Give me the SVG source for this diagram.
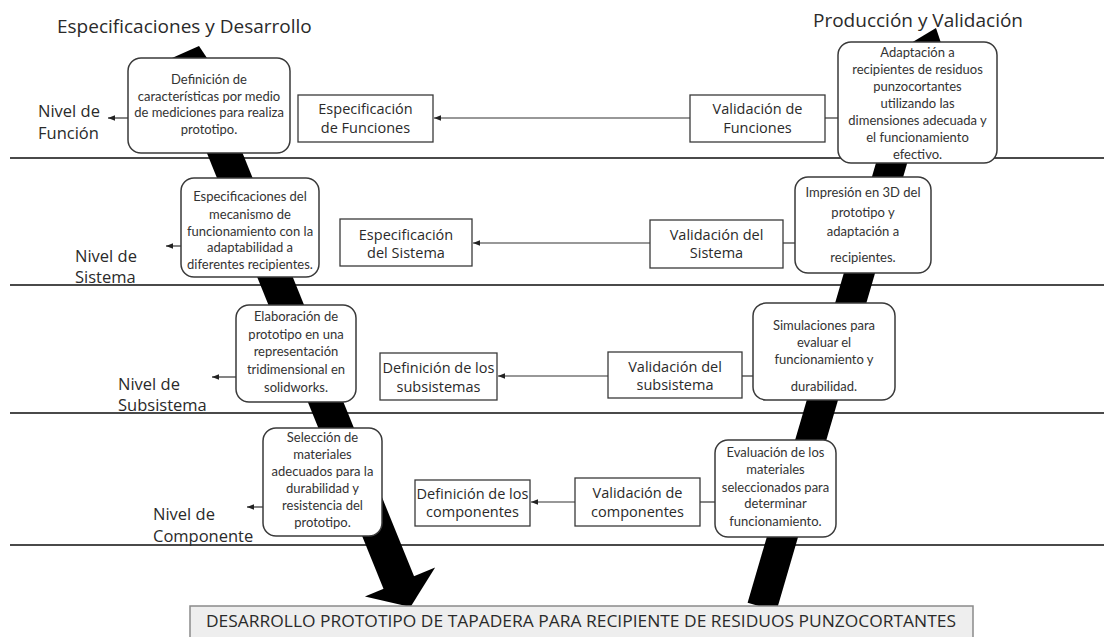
<svg xmlns="http://www.w3.org/2000/svg" width="1104" height="637" viewBox="0 0 1104 637">
<defs>
<style>
.div{stroke:#4a4a4a;stroke-width:2;}
.band{stroke:#000;stroke-width:33;fill:none;}
.con{stroke:#333;stroke-width:1.2;fill:none;}
.rect{fill:#fff;stroke:#3a3a3a;stroke-width:1.3;}
.rbox{fill:#fff;stroke:#3a3a3a;stroke-width:1.5;}
.t{font-family:"Open Sans","Noto Sans",sans-serif;fill:#2a2a2a;}
.lbl{font-size:16.5px;}
.ttl{font-size:19px;}
.mid{font-size:14.5px;text-anchor:middle;}
.sm{font-family:Lato,"Liberation Sans",sans-serif;font-size:13px;text-anchor:middle;fill:#333;}
</style>
<marker id="ah" viewBox="0 0 10 10" refX="10" refY="5" markerWidth="7" markerHeight="7" markerUnits="userSpaceOnUse" orient="auto">
<path d="M0,1 L10,5 L0,9 z" fill="#222"/>
</marker>
</defs>
<rect width="1104" height="637" fill="#fff"/>

<g id="dividers">
<line class="div" x1="10" y1="158" x2="1104" y2="158"/>
<line class="div" x1="10" y1="285" x2="1104" y2="285"/>
<line class="div" x1="10" y1="413" x2="1104" y2="413"/>
<line class="div" x1="10" y1="545" x2="1104" y2="545"/>
</g>

<g id="titles" class="t ttl">
<text x="57" y="33">Especificaciones y Desarrollo</text>
<text x="813" y="27">Producción y Validación</text>
</g>

<g id="bands">
<polygon points="172,58 199,46 207,58" fill="#000"/>
<line class="band" x1="189" y1="65" x2="401" y2="588"/>
<polygon points="364.9,596.5 435.1,567.5 410.5,607" fill="#000"/>
<polygon points="911,43 936,28 941,43" fill="#000"/>
<line class="band" style="stroke-width:30" x1="924" y1="52" x2="762" y2="607"/>
</g>

<g id="level-labels" class="t lbl">
<text x="38" y="117">Nivel de</text>
<text x="38" y="139">Función</text>
<text x="75" y="262">Nivel de</text>
<text x="75" y="283">Sistema</text>
<text x="118" y="390">Nivel de</text>
<text x="118" y="411">Subsistema</text>
<text x="153" y="520">Nivel de</text>
<text x="153" y="542">Componente</text>
</g>

<g id="connectors">
<line class="con" x1="690" y1="118" x2="434" y2="118" marker-end="url(#ah)"/>
<line class="con" x1="825" y1="118" x2="838" y2="118"/>
<line class="con" x1="128" y1="118" x2="108" y2="118" marker-end="url(#ah)"/>
<line class="con" x1="650" y1="243" x2="473" y2="243" marker-end="url(#ah)"/>
<line class="con" x1="783" y1="243" x2="795" y2="243"/>
<line class="con" x1="181" y1="246" x2="166" y2="246" marker-end="url(#ah)"/>
<line class="con" x1="608" y1="376" x2="498" y2="376" marker-end="url(#ah)"/>
<line class="con" x1="742" y1="376" x2="753" y2="376"/>
<line class="con" x1="236" y1="377" x2="212" y2="377" marker-end="url(#ah)"/>
<line class="con" x1="575" y1="502" x2="531" y2="502" marker-end="url(#ah)"/>
<line class="con" x1="700" y1="502" x2="715" y2="502"/>
<line class="con" x1="263" y1="507" x2="247" y2="507" marker-end="url(#ah)"/>
</g>

<g id="a1">
<rect class="rbox" x="128" y="58" width="162" height="95" rx="13"/>
<text class="sm"><tspan x="209" y="84">Definición de</tspan><tspan x="209" y="101">características por medio</tspan><tspan x="209" y="117">de mediciones para realiza</tspan><tspan x="209" y="134">prototipo.</tspan></text>
</g>
<g id="s1">
<rect class="rect" x="298" y="95" width="135" height="47"/>
<text class="t mid"><tspan x="365.5" y="114">Especificación</tspan><tspan x="365.5" y="133">de Funciones</tspan></text>
</g>
<g id="v1">
<rect class="rect" x="690" y="95" width="135" height="47"/>
<text class="t mid"><tspan x="757.5" y="114">Validación de</tspan><tspan x="757.5" y="133">Funciones</tspan></text>
</g>
<g id="b1">
<rect class="rbox" x="838" y="42" width="159" height="121" rx="13"/>
<text class="sm"><tspan x="917.5" y="57">Adaptación a</tspan><tspan x="917.5" y="74">recipientes de residuos</tspan><tspan x="917.5" y="91">punzocortantes</tspan><tspan x="917.5" y="108">utilizando las</tspan><tspan x="917.5" y="125">dimensiones adecuada y</tspan><tspan x="917.5" y="142">el funcionamiento</tspan><tspan x="917.5" y="159">efectivo.</tspan></text>
</g>

<g id="a2">
<rect class="rbox" x="181" y="178" width="138" height="99" rx="13"/>
<text class="sm"><tspan x="250" y="201">Especificaciones del</tspan><tspan x="250" y="219">mecanismo de</tspan><tspan x="250" y="236">funcionamiento con la</tspan><tspan x="250" y="252">adaptabilidad a</tspan><tspan x="250" y="269">diferentes recipientes.</tspan></text>
</g>
<g id="s2">
<rect class="rect" x="340" y="219" width="132" height="47"/>
<text class="t mid"><tspan x="406" y="240">Especificación</tspan><tspan x="406" y="258">del Sistema</tspan></text>
</g>
<g id="v2">
<rect class="rect" x="650" y="220" width="133" height="48"/>
<text class="t mid"><tspan x="716.5" y="240">Validación del</tspan><tspan x="716.5" y="258">Sistema</tspan></text>
</g>
<g id="b2">
<rect class="rbox" x="795" y="177" width="136" height="96" rx="13"/>
<text class="sm"><tspan x="863" y="197">Impresión en 3D del</tspan><tspan x="863" y="217">prototipo y</tspan><tspan x="863" y="236">adaptación a</tspan><tspan x="863" y="262">recipientes.</tspan></text>
</g>

<g id="a3">
<rect class="rbox" x="236" y="305" width="120" height="97" rx="13"/>
<text class="sm"><tspan x="296" y="321">Elaboración de</tspan><tspan x="296" y="339">prototipo en una</tspan><tspan x="296" y="356">representación</tspan><tspan x="296" y="374">tridimensional en</tspan><tspan x="296" y="392">solidworks.</tspan></text>
</g>
<g id="s3">
<rect class="rect" x="380" y="353" width="117" height="47"/>
<text class="t mid"><tspan x="438.5" y="373">Definición de los</tspan><tspan x="438.5" y="392">subsistemas</tspan></text>
</g>
<g id="v3">
<rect class="rect" x="608" y="352" width="134" height="46"/>
<text class="t mid"><tspan x="675" y="372">Validación del</tspan><tspan x="675" y="390">subsistema</tspan></text>
</g>
<g id="b3">
<rect class="rbox" x="753" y="303" width="142" height="97" rx="13"/>
<text class="sm"><tspan x="824" y="330">Simulaciones para</tspan><tspan x="824" y="347">evaluar el</tspan><tspan x="824" y="364">funcionamiento y</tspan><tspan x="824" y="391">durabilidad.</tspan></text>
</g>

<g id="a4">
<rect class="rbox" x="263" y="428" width="119" height="108" rx="13"/>
<text class="sm"><tspan x="322.5" y="442">Selección de</tspan><tspan x="322.5" y="459">materiales</tspan><tspan x="322.5" y="476">adecuados para la</tspan><tspan x="322.5" y="493">durabilidad y</tspan><tspan x="322.5" y="510">resistencia del</tspan><tspan x="322.5" y="527">prototipo.</tspan></text>
</g>
<g id="s4">
<rect class="rect" x="415" y="480" width="115" height="46"/>
<text class="t mid"><tspan x="472.5" y="499">Definición de los</tspan><tspan x="472.5" y="517">componentes</tspan></text>
</g>
<g id="v4">
<rect class="rect" x="575" y="478" width="125" height="48"/>
<text class="t mid"><tspan x="637.5" y="498">Validación de</tspan><tspan x="637.5" y="517">componentes</tspan></text>
</g>
<g id="b4">
<rect class="rbox" x="715" y="440" width="121" height="97" rx="13"/>
<text class="sm"><tspan x="775.5" y="457">Evaluación de los</tspan><tspan x="775.5" y="474">materiales</tspan><tspan x="775.5" y="492">seleccionados para</tspan><tspan x="775.5" y="508">determinar</tspan><tspan x="775.5" y="526">funcionamiento.</tspan></text>
</g>

<g id="bottom">
<rect x="190" y="606" width="783" height="40" fill="#eeeeee" stroke="#8a8a8a" stroke-width="1.5"/>
<text class="t" x="206" y="627" font-size="15.5" textLength="750" lengthAdjust="spacingAndGlyphs">DESARROLLO PROTOTIPO DE TAPADERA PARA RECIPIENTE DE RESIDUOS PUNZOCORTANTES</text>
</g>
</svg>
